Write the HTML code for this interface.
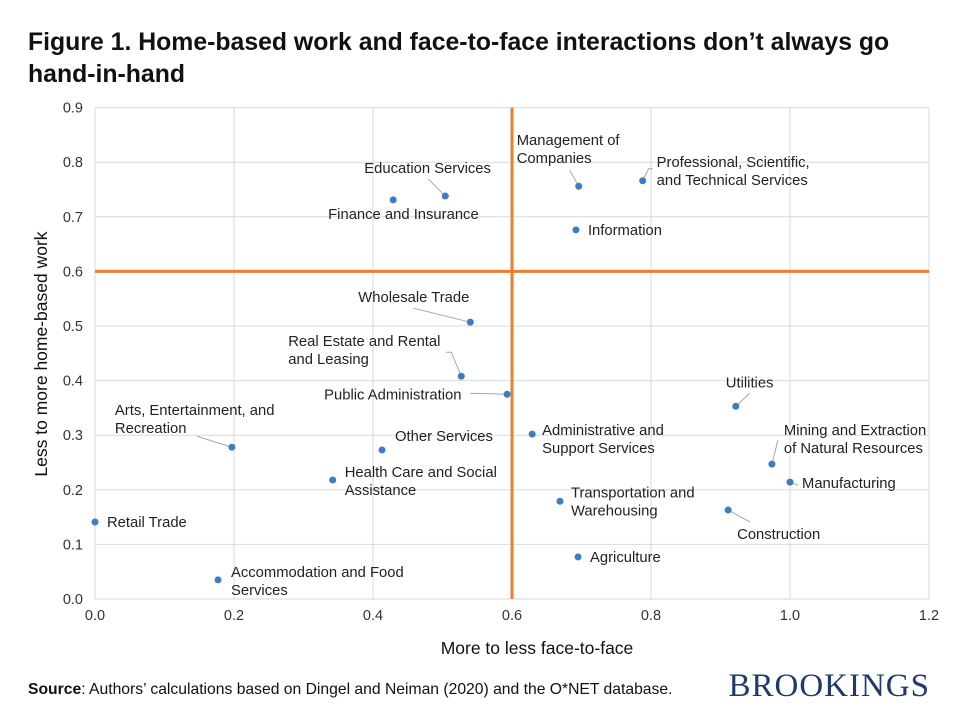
<!DOCTYPE html>
<html><head><meta charset="utf-8"><style>
body{margin:0;background:#fff;font-family:"Liberation Sans",sans-serif;}
svg text{font-family:"Liberation Sans",sans-serif;}
</style></head><body>
<svg id="c" width="960" height="720" xmlns="http://www.w3.org/2000/svg">
<text x="28" y="50" font-size="24.8" font-weight="bold" fill="#111">Figure 1. Home-based work and face-to-face interactions don’t always go</text>
<text x="28" y="82" font-size="24.8" font-weight="bold" fill="#111">hand-in-hand</text>
<g id="grid"></g><g id="ref"></g><g id="lead"></g><g id="pts"></g><g id="lbl"></g>
<text x="537" y="654" font-size="17.5" text-anchor="middle" fill="#111">More to less face-to-face</text>
<text transform="translate(47,354) rotate(-90)" font-size="17.5" text-anchor="middle" fill="#111">Less to more home-based work</text>
<text x="28" y="694" font-size="15.7" fill="#111"><tspan font-weight="bold">Source</tspan>: Authors’ calculations based on Dingel and Neiman (2020) and the O*NET database.</text>
<text x="930" y="696" font-size="33" text-anchor="end" fill="#1f3a6e" font-family="Liberation Serif" style="font-family:'Liberation Serif',serif;letter-spacing:1px">BROOKINGS</text>
</svg>
<script>
const categories=["Retail Trade","Accommodation and Food|Services","Arts, Entertainment, and|Recreation","Health Care and Social|Assistance","Other Services","Finance and Insurance","Education Services","Real Estate and Rental|and Leasing","Wholesale Trade","Public Administration","Administrative and|Support Services","Transportation and|Warehousing","Management of|Companies","Information","Agriculture","Professional, Scientific,|and Technical Services","Construction","Utilities","Mining and Extraction|of Natural Resources","Manufacturing"];
const xValues=[0,0.177,0.197,0.342,0.413,0.429,0.504,0.527,0.540,0.593,0.629,0.669,0.696,0.692,0.695,0.788,0.911,0.922,0.974,1.0];
const yValues=[0.141,0.035,0.278,0.218,0.273,0.731,0.738,0.408,0.507,0.375,0.302,0.179,0.756,0.676,0.077,0.766,0.163,0.353,0.247,0.214];
const xTicks=[0,0.2,0.4,0.6,0.8,1.0,1.2];
const xTickLabels=["0.0","0.2","0.4","0.6","0.8","1.0","1.2"];
const yTicks=[0,0.1,0.2,0.3,0.4,0.5,0.6,0.7,0.8,0.9];
const yTickLabels=["0.0","0.1","0.2","0.3","0.4","0.5","0.6","0.7","0.8","0.9"];
const xRef=0.6, yRef=0.6;
const layout=[[12,5,"start",null],[13,-3,"start",null],[-117,-32,"start",[0,0,-35,-11]],[12,-3,"start",null],[13,-9,"start",null],[-65,19,"start",null],[-81,-23,"start",[0,0,-17,-17]],[-173,-30,"start",[0,0,-10,-24,-15,-24]],[-112,-20,"start",[0,0,-57,-14]],[-183,5,"start",[0,0,-37,-1]],[10,1,"start",null],[11,-4,"start",null],[-62,-41,"start",[0,0,-9,-16]],[12,5,"start",null],[12,5,"start",null],[14,-14,"start",[0,0,6,-12,10,-12]],[9,29,"start",[0,0,22,12]],[-10,-19,"start",[0,0,14,-13]],[12,-29,"start",[0,0,6,-24]],[12,6,"start",[0,0,8,3]]];
const X=v=>95+v*695, Y=v=>599-v*546;
const NS="http://www.w3.org/2000/svg";
function mk(p,t,a){const e=document.createElementNS(NS,t);for(const k in a)e.setAttribute(k,a[k]);document.getElementById(p).appendChild(e);return e;}
xTicks.forEach((t,i)=>{
 const l=mk("grid","line",{x1:X(t),x2:X(t),y1:Y(0.9),y2:Y(0),stroke:"#d9d9d9"});
 
 
 const tx=mk("grid","text",{x:X(t),y:620,"font-size":14.5,"text-anchor":"middle",fill:"#333"});tx.textContent=xTickLabels[i];
 
 
});
yTicks.forEach((t,i)=>{
 const l=mk("grid","line",{x1:X(0),x2:X(1.2),y1:Y(t),y2:Y(t),stroke:"#d9d9d9"});
 
 
 const tx=mk("grid","text",{x:83,y:Y(t)+5,"font-size":14.5,"text-anchor":"end",fill:"#333"});tx.textContent=yTickLabels[i];
 
 
});
let r1=mk("ref","line",{x1:X(xRef),x2:X(xRef),y1:Y(0.9),y2:Y(0),stroke:"#ed7d31","stroke-width":3});


let r2=mk("ref","line",{x1:X(0),x2:X(1.2),y1:Y(yRef),y2:Y(yRef),stroke:"#ed7d31","stroke-width":3});


categories.forEach((c,i)=>{
 const px=X(xValues[i]),py=Y(yValues[i]),L=layout[i];
 if(L[3]){const q=L[3];let d="M"+(px+q[0])+" "+(py+q[1]);for(let k=2;k<q.length;k+=2)d+=" L"+(px+q[k])+" "+(py+q[k+1]);
  const pl=mk("lead","path",{d:d,stroke:"#a6a6a6",fill:"none"});
  
  }
 const p=mk("pts","circle",{cx:px,cy:py,r:3.5,fill:"#3c7dc4"});
 
 
 c.split('|').forEach((s,k)=>{
  const t=mk("lbl","text",{x:px+L[0],y:py+L[1]+k*18,"font-size":14.8,fill:"#222","text-anchor":L[2]});t.textContent=s;
  
  
 });
});
</script>
</body></html>
